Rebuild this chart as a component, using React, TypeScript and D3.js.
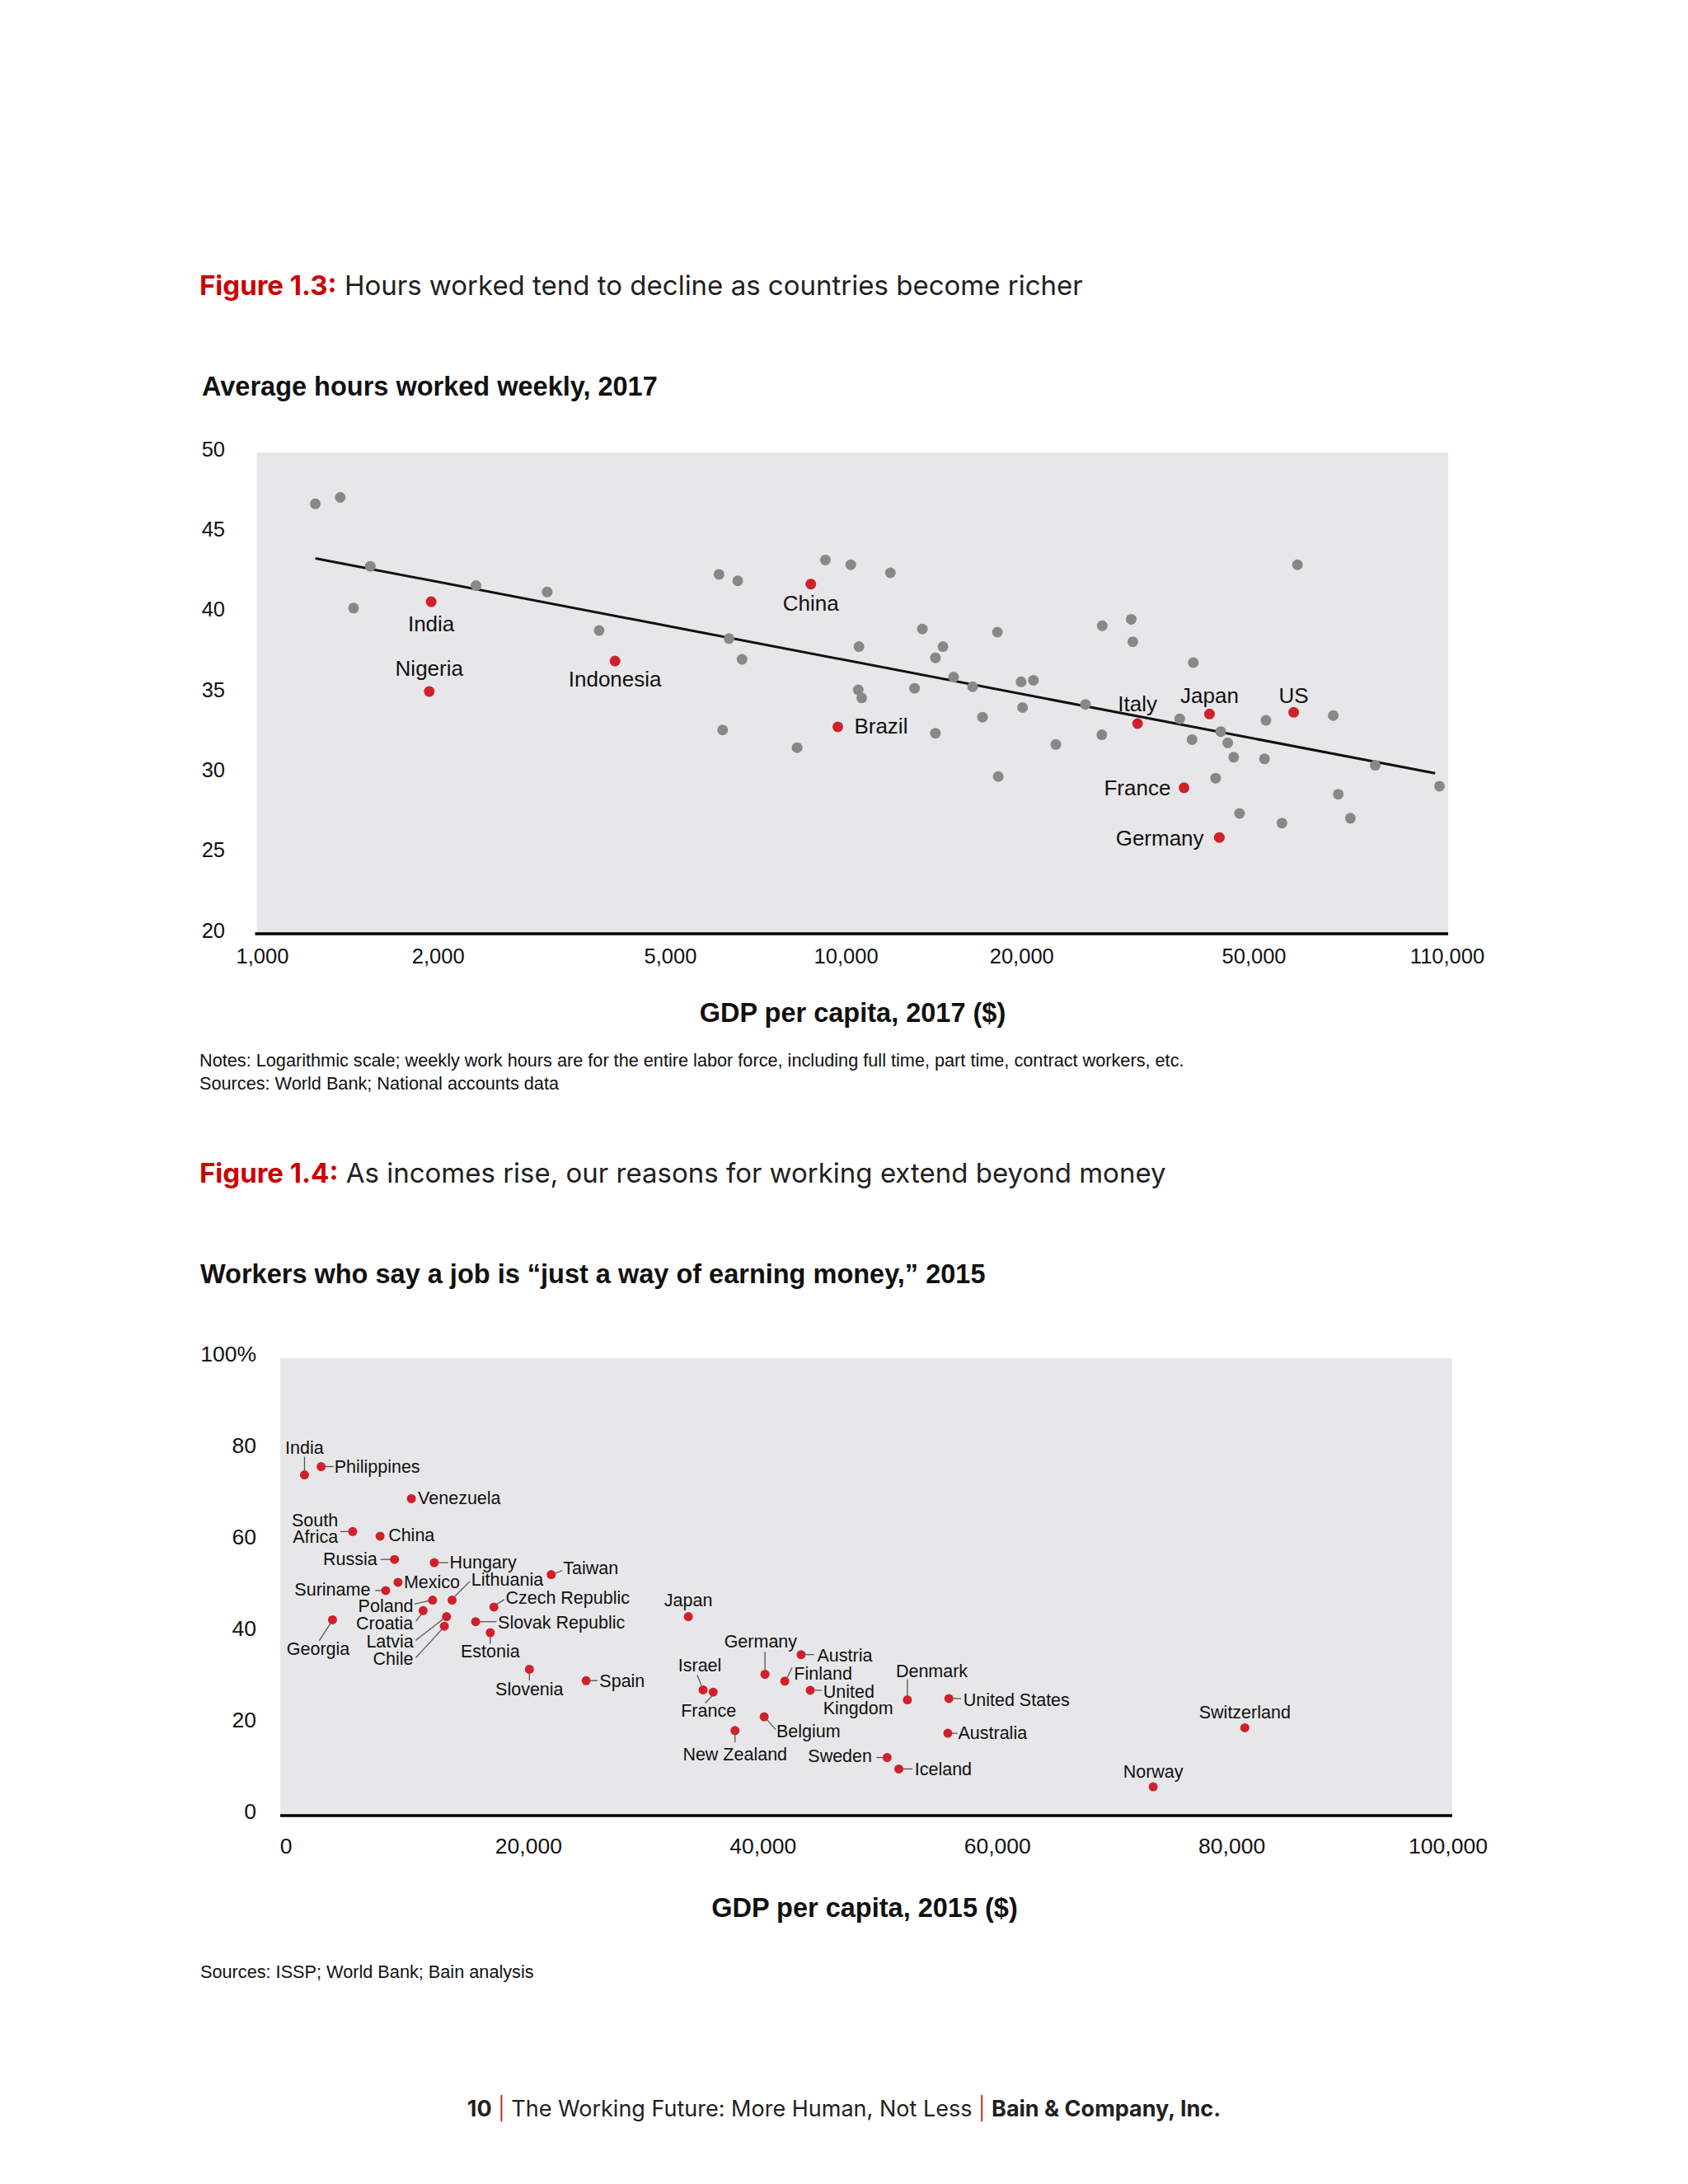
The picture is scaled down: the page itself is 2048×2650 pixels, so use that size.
import React, { useEffect, useRef } from 'react';
import * as d3 from 'd3';

// ---- Figure 1.3: weekly hours vs GDP per capita (log scale), 2017 ----
const otherCountries2017 = [
  { gdp: 1260, hours: 46.8 }, { gdp: 1390, hours: 47.2 }, { gdp: 1565, hours: 42.9 },
  { gdp: 1465, hours: 40.3 }, { gdp: 2375, hours: 41.7 }, { gdp: 3145, hours: 41.3 },
  { gdp: 3860, hours: 38.9 }, { gdp: 6195, hours: 42.4 }, { gdp: 6670, hours: 42.0 },
  { gdp: 6445, hours: 38.4 }, { gdp: 6785, hours: 37.1 }, { gdp: 6285, hours: 32.7 },
  { gdp: 8430, hours: 31.6 }, { gdp: 9425, hours: 43.3 }, { gdp: 10420, hours: 43.0 },
  { gdp: 10760, hours: 37.9 }, { gdp: 10730, hours: 35.2 }, { gdp: 10880, hours: 34.7 },
  { gdp: 12180, hours: 42.5 }, { gdp: 13820, hours: 39.0 }, { gdp: 14990, hours: 37.9 },
  { gdp: 14550, hours: 37.2 }, { gdp: 13400, hours: 35.3 }, { gdp: 15630, hours: 36.0 },
  { gdp: 16850, hours: 35.4 }, { gdp: 14550, hours: 32.5 }, { gdp: 17520, hours: 33.5 },
  { gdp: 18580, hours: 38.8 }, { gdp: 18640, hours: 29.8 }, { gdp: 20400, hours: 35.7 },
  { gdp: 21420, hours: 35.8 }, { gdp: 20520, hours: 34.1 }, { gdp: 23400, hours: 31.8 },
  { gdp: 26300, hours: 34.3 }, { gdp: 28100, hours: 39.2 }, { gdp: 31500, hours: 39.6 },
  { gdp: 31700, hours: 38.2 }, { gdp: 28050, hours: 32.4 }, { gdp: 38150, hours: 33.4 },
  { gdp: 40250, hours: 36.9 }, { gdp: 40050, hours: 32.1 }, { gdp: 44850, hours: 32.6 },
  { gdp: 46100, hours: 31.9 }, { gdp: 47200, hours: 31.0 }, { gdp: 43950, hours: 29.7 },
  { gdp: 48300, hours: 27.5 }, { gdp: 53300, hours: 30.9 }, { gdp: 53600, hours: 33.3 },
  { gdp: 57100, hours: 26.9 }, { gdp: 60700, hours: 43.0 }, { gdp: 69900, hours: 33.6 },
  { gdp: 71300, hours: 28.7 }, { gdp: 74800, hours: 27.2 }, { gdp: 82500, hours: 30.5 },
  { gdp: 106300, hours: 29.2 },
];

const highlighted2017 = [
  { name: 'India', gdp: 1990, hours: 40.7 },
  { name: 'Nigeria', gdp: 1975, hours: 35.1 },
  { name: 'Indonesia', gdp: 4110, hours: 37.0 },
  { name: 'China', gdp: 8900, hours: 41.8 },
  { name: 'Brazil', gdp: 9900, hours: 32.9 },
  { name: 'Italy', gdp: 32300, hours: 33.1 },
  { name: 'Japan', gdp: 42900, hours: 33.7 },
  { name: 'US', gdp: 59800, hours: 33.8 },
  { name: 'France', gdp: 38800, hours: 29.1 },
  { name: 'Germany', gdp: 44600, hours: 26.0 },
];

const trend2017 = [
  { gdp: 1260, hours: 43.4 },
  { gdp: 104500, hours: 30.0 },
];

const hoursTicks = [20, 25, 30, 35, 40, 45, 50];
const gdpLogTicks = [1000, 2000, 5000, 10000, 20000, 50000, 110000];

// ---- Figure 1.4: share saying a job is just a way of earning money, 2015 ----
const moneyOnly2015 = [
  { name: 'India', gdp: 2070, share: 74.5 },
  { name: 'Philippines', gdp: 3490, share: 76.3 },
  { name: 'Venezuela', gdp: 11190, share: 69.3 },
  { name: 'South Africa', gdp: 6180, share: 62.1 },
  { name: 'China', gdp: 8520, share: 61.1 },
  { name: 'Russia', gdp: 9750, share: 56.0 },
  { name: 'Hungary', gdp: 13140, share: 55.3 },
  { name: 'Taiwan', gdp: 23120, share: 52.7 },
  { name: 'Mexico', gdp: 10050, share: 51.0 },
  { name: 'Suriname', gdp: 9000, share: 49.2 },
  { name: 'Poland', gdp: 13000, share: 47.1 },
  { name: 'Lithuania', gdp: 14660, share: 47.1 },
  { name: 'Croatia', gdp: 12190, share: 44.8 },
  { name: 'Latvia', gdp: 14190, share: 43.5 },
  { name: 'Chile', gdp: 14000, share: 41.4 },
  { name: 'Czech Republic', gdp: 18230, share: 45.6 },
  { name: 'Slovak Republic', gdp: 16670, share: 42.4 },
  { name: 'Estonia', gdp: 17920, share: 40.0 },
  { name: 'Georgia', gdp: 4460, share: 42.8 },
  { name: 'Slovenia', gdp: 21260, share: 32.0 },
  { name: 'Spain', gdp: 26100, share: 29.5 },
  { name: 'Japan', gdp: 34820, share: 43.5 },
  { name: 'Israel', gdp: 36080, share: 27.5 },
  { name: 'France', gdp: 36940, share: 27.0 },
  { name: 'New Zealand', gdp: 38800, share: 18.6 },
  { name: 'Germany', gdp: 41360, share: 30.9 },
  { name: 'Belgium', gdp: 41290, share: 21.6 },
  { name: 'Austria', gdp: 44440, share: 35.2 },
  { name: 'Finland', gdp: 43050, share: 29.4 },
  { name: 'United Kingdom', gdp: 45220, share: 27.4 },
  { name: 'Denmark', gdp: 53510, share: 25.3 },
  { name: 'United States', gdp: 57050, share: 25.6 },
  { name: 'Australia', gdp: 56960, share: 18.0 },
  { name: 'Sweden', gdp: 51780, share: 12.7 },
  { name: 'Iceland', gdp: 52780, share: 10.2 },
  { name: 'Norway', gdp: 74480, share: 6.3 },
  { name: 'Switzerland', gdp: 82300, share: 19.2 },
];

const shareTicks = [0, 20, 40, 60, 80, 100];
const gdpLinearTicks = [0, 20000, 40000, 60000, 80000, 100000];

// label placement relative to the dot (px); cy = vertical centre of the text
type LabelPos = {
  dx: number;
  cy: number;
  anchor: 'start' | 'middle' | 'end';
  lines?: string[];
  leader?: [number, number, number, number];
};

const labels2017: Record<string, LabelPos> = {
  India: { dx: 0, cy: 26.5, anchor: 'middle' },
  Nigeria: { dx: 0, cy: -28.6, anchor: 'middle' },
  Indonesia: { dx: 0, cy: 21.2, anchor: 'middle' },
  China: { dx: 0, cy: 23, anchor: 'middle' },
  Brazil: { dx: 19.9, cy: -1.3, anchor: 'start' },
  Italy: { dx: 0, cy: -24.7, anchor: 'middle' },
  Japan: { dx: 0, cy: -22.5, anchor: 'middle' },
  US: { dx: 0, cy: -20.8, anchor: 'middle' },
  France: { dx: -16.2, cy: 0, anchor: 'end' },
  Germany: { dx: -18.8, cy: 0, anchor: 'end' },
};

const labels2015: Record<string, LabelPos> = {
  India: { dx: 0, cy: -33, anchor: 'middle', leader: [0, -22, 0, -5] },
  Philippines: { dx: 16, cy: 0, anchor: 'start', leader: [5, 0, 15, 0] },
  Venezuela: { dx: 8, cy: -1, anchor: 'start' },
  'South Africa': { dx: -17.7, cy: -14, anchor: 'end', lines: ['South', 'Africa'], leader: [-15, 0, -4, 0] },
  China: { dx: 10, cy: -1, anchor: 'start' },
  Russia: { dx: -21, cy: -1, anchor: 'end', leader: [-17, 0, -4, 0] },
  Hungary: { dx: 18.6, cy: -1, anchor: 'start', leader: [5, 0, 17, 0] },
  Taiwan: { dx: 14.6, cy: -8, anchor: 'start', leader: [5, -1.5, 13.5, -5] },
  Mexico: { dx: 7, cy: -1, anchor: 'start' },
  Suriname: { dx: -18.6, cy: -2, anchor: 'end', leader: [-12.7, 0, -4.8, 0] },
  Lithuania: { dx: 23.4, cy: -25, anchor: 'start', leader: [3.2, -4.3, 21.8, -23] },
  Poland: { dx: -23.3, cy: 7, anchor: 'end', leader: [-22, 4.7, -4.8, 0.7] },
  Croatia: { dx: -12, cy: 15, anchor: 'end', leader: [-9, 13, -2, 4] },
  Latvia: { dx: -40, cy: 30, anchor: 'end', leader: [-37.5, 28.8, -3.5, 2.5] },
  Chile: { dx: -37.6, cy: 39.5, anchor: 'end', leader: [-34.8, 38.4, -2.4, 3.2] },
  Georgia: { dx: -17.4, cy: 34.5, anchor: 'middle', leader: [-2.7, 4.7, -16.2, 25.5] },
  'Czech Republic': { dx: 14.2, cy: -11.2, anchor: 'start', leader: [2.8, -2.9, 12.6, -9] },
  'Slovak Republic': { dx: 27, cy: 0.7, anchor: 'start', leader: [4.8, 0, 25.3, 0] },
  Estonia: { dx: 0, cy: 22.6, anchor: 'middle', leader: [0, 4.3, 0, 13.6] },
  Slovenia: { dx: 0, cy: 23.7, anchor: 'middle', leader: [0, 4.3, 0, 13.6] },
  Spain: { dx: 16.2, cy: 0.3, anchor: 'start', leader: [4.3, 0, 13.8, 0] },
  Japan: { dx: 0, cy: -20, anchor: 'middle' },
  Israel: { dx: -4, cy: -29.5, anchor: 'middle', leader: [-7.1, -17.9, -2, -5] },
  France: { dx: -5.6, cy: 22.7, anchor: 'middle', leader: [-1.6, 4.7, -9.5, 13.3] },
  'New Zealand': { dx: 0, cy: 28.3, anchor: 'middle', leader: [0, 4, 0, 14.5] },
  Germany: { dx: -5.3, cy: -40, anchor: 'middle', leader: [0, -27.3, 0, -5.4] },
  Austria: { dx: 19.6, cy: 0.7, anchor: 'start', leader: [5.3, 0, 15.6, 0] },
  Finland: { dx: 11.2, cy: -9.4, anchor: 'start', leader: [3.1, -4.5, 8.9, -16.6] },
  'United Kingdom': { dx: 15.7, cy: 1.4, anchor: 'start', lines: ['United', 'Kingdom'], leader: [5.4, 0, 13.8, 0] },
  Belgium: { dx: 14.8, cy: 17.5, anchor: 'start', leader: [3.6, 3.7, 13.9, 15.5] },
  Denmark: { dx: -14, cy: -35.6, anchor: 'start', leader: [0, -25, 0, -4.7] },
  'United States': { dx: 17.5, cy: 1, anchor: 'start', leader: [5.4, 0, 14.7, 0] },
  Australia: { dx: 12.5, cy: -0.3, anchor: 'start', leader: [5.4, 0, 11.6, 0] },
  Sweden: { dx: -18.3, cy: -2, anchor: 'end', leader: [-12.9, 0, -5.3, 0] },
  Iceland: { dx: 19.2, cy: -0.3, anchor: 'start', leader: [5.4, 0, 16.6, 0] },
  Norway: { dx: 0, cy: -19, anchor: 'middle' },
  Switzerland: { dx: 0, cy: -19.5, anchor: 'middle' },
};

const W = 2048;
const H = 2650;
const RED = '#d0202a';
const TITLE_RED = '#cc0000';
const GREY_DOT = '#888888';
const PLOT_BG = '#e7e7e9';
const CHART_FONT = "'Liberation Sans', Arial, Helvetica, sans-serif";
const TITLE_FONT = "Inter, 'Open Sans', sans-serif";

const App: React.FC = () => {
  const svgRef = useRef<SVGSVGElement>(null);

  useEffect(() => {
    if (!svgRef.current) return;
    const svg = d3.select(svgRef.current);
    svg.selectAll('*').remove();

    svg.append('rect').attr('width', W).attr('height', H).attr('fill', '#fff');

    const heading = (y: number, fig: string, text: string) => {
      const t = svg.append('text')
        .attr('x', 242).attr('y', y)
        .attr('font-family', TITLE_FONT).attr('font-size', 33)
        .attr('fill', '#231f20');
      t.append('tspan').attr('font-weight', 700).attr('fill', TITLE_RED).text(fig);
      t.append('tspan').attr('font-weight', 400).text(' ' + text);
    };

    const plain = (x: number, y: number, text: string, size: number, weight = 400, anchor = 'start') =>
      svg.append('text')
        .attr('x', x).attr('y', y)
        .attr('font-family', CHART_FONT).attr('font-size', size)
        .attr('font-weight', weight).attr('text-anchor', anchor)
        .attr('fill', '#111').text(text);

    // ================= Figure 1.3 =================
    heading(358, 'Figure 1.3:', 'Hours worked tend to decline as countries become richer');
    plain(245, 480, 'Average hours worked weekly, 2017', 32.5, 700);

    const p1 = { left: 311.5, right: 1757, top: 549, bottom: 1133 };
    const x1 = d3.scaleLog().domain([1000, 110000]).range([p1.left, p1.right]);
    const y1 = d3.scaleLinear().domain([20, 50]).range([p1.bottom, p1.top]);

    const g1 = svg.append('g').attr('font-family', CHART_FONT);
    g1.append('rect')
      .attr('x', p1.left).attr('y', p1.top)
      .attr('width', p1.right - p1.left).attr('height', p1.bottom - p1.top)
      .attr('fill', PLOT_BG);

    g1.selectAll('text.ytick').data(hoursTicks).join('text')
      .attr('class', 'ytick')
      .attr('x', 273).attr('y', d => y1(d) + 4.5)
      .attr('text-anchor', 'end').attr('font-size', 25.5).attr('fill', '#111')
      .text(d => d3.format('d')(d));

    g1.selectAll('text.xtick').data(gdpLogTicks).join('text')
      .attr('class', 'xtick')
      .attr('x', (d, i) => x1(d) + (i === gdpLogTicks.length - 1 ? -1 : 7))
      .attr('y', 1169)
      .attr('text-anchor', 'middle').attr('font-size', 25.5).attr('fill', '#111')
      .text(d => d3.format(',')(d));

    g1.append('line')
      .attr('x1', p1.left - 2).attr('x2', p1.right)
      .attr('y1', p1.bottom).attr('y2', p1.bottom)
      .attr('stroke', '#000').attr('stroke-width', 3.5);

    const trend = d3.line<{ gdp: number; hours: number }>()
      .x(d => x1(d.gdp)).y(d => y1(d.hours));
    g1.append('path').datum(trend2017)
      .attr('d', trend).attr('fill', 'none')
      .attr('stroke', '#111').attr('stroke-width', 3);

    g1.selectAll('circle.other').data(otherCountries2017).join('circle')
      .attr('class', 'other')
      .attr('cx', d => x1(d.gdp)).attr('cy', d => y1(d.hours))
      .attr('r', 6.5).attr('fill', GREY_DOT);

    g1.selectAll('circle.hl').data(highlighted2017).join('circle')
      .attr('class', 'hl')
      .attr('cx', d => x1(d.gdp)).attr('cy', d => y1(d.hours))
      .attr('r', 6.5).attr('fill', RED);

    g1.selectAll('text.hl').data(highlighted2017).join('text')
      .attr('class', 'hl')
      .attr('x', d => x1(d.gdp) + labels2017[d.name].dx)
      .attr('y', d => y1(d.hours) + labels2017[d.name].cy + 9.3)
      .attr('text-anchor', d => labels2017[d.name].anchor)
      .attr('font-size', 26).attr('fill', '#111')
      .text(d => d.name);

    plain(1034.5, 1240, 'GDP per capita, 2017 ($)', 32.5, 700, 'middle');
    plain(242, 1294, 'Notes: Logarithmic scale; weekly work hours are for the entire labor force, including full time, part time, contract workers, etc.', 21.7);
    plain(242, 1321.5, 'Sources: World Bank; National accounts data', 21.7);

    // ================= Figure 1.4 =================
    heading(1435, 'Figure 1.4:', 'As incomes rise, our reasons for working extend beyond money');
    plain(243, 1557, 'Workers who say a job is \u201cjust a way of earning money,\u201d 2015', 32.5, 700);

    const p2 = { left: 340, right: 1762, top: 1648, bottom: 2203 };
    const x2 = d3.scaleLinear().domain([0, 100000]).range([p2.left, p2.right]);
    const y2 = d3.scaleLinear().domain([0, 100]).range([p2.bottom, p2.top]);

    const g2 = svg.append('g').attr('font-family', CHART_FONT);
    g2.append('rect')
      .attr('x', p2.left).attr('y', p2.top)
      .attr('width', p2.right - p2.left).attr('height', p2.bottom - p2.top)
      .attr('fill', PLOT_BG);

    g2.selectAll('text.ytick').data(shareTicks).join('text')
      .attr('class', 'ytick')
      .attr('x', 311).attr('y', d => y2(d) + 4)
      .attr('text-anchor', 'end').attr('font-size', 26.5).attr('fill', '#111')
      .text(d => (d === 100 ? `${d}%` : `${d}`));

    const lastX = gdpLinearTicks.length - 1;
    g2.selectAll('text.xtick').data(gdpLinearTicks).join('text')
      .attr('class', 'xtick')
      .attr('x', (d, i) => x2(d) + (i === 0 ? 7 : i === lastX ? -5 : 17))
      .attr('y', 2249)
      .attr('text-anchor', 'middle').attr('font-size', 26.5).attr('fill', '#111')
      .text(d => d3.format(',')(d));

    g2.append('line')
      .attr('x1', p2.left).attr('x2', p2.right)
      .attr('y1', p2.bottom).attr('y2', p2.bottom)
      .attr('stroke', '#000').attr('stroke-width', 3.5);

    // leader lines
    g2.selectAll('line.leader')
      .data(moneyOnly2015.filter(d => labels2015[d.name].leader))
      .join('line')
      .attr('class', 'leader')
      .attr('x1', d => x2(d.gdp) + labels2015[d.name].leader![0])
      .attr('y1', d => y2(d.share) + labels2015[d.name].leader![1])
      .attr('x2', d => x2(d.gdp) + labels2015[d.name].leader![2])
      .attr('y2', d => y2(d.share) + labels2015[d.name].leader![3])
      .attr('stroke', '#555').attr('stroke-width', 1.3);

    g2.selectAll('circle.pt').data(moneyOnly2015).join('circle')
      .attr('class', 'pt')
      .attr('cx', d => x2(d.gdp)).attr('cy', d => y2(d.share))
      .attr('r', 5.5).attr('fill', RED);

    const lbl = g2.selectAll('text.pt').data(moneyOnly2015).join('text')
      .attr('class', 'pt')
      .attr('x', d => x2(d.gdp) + labels2015[d.name].dx)
      .attr('y', d => y2(d.share) + labels2015[d.name].cy + 7.6)
      .attr('text-anchor', d => labels2015[d.name].anchor)
      .attr('font-size', 21.5).attr('fill', '#111');

    lbl.each(function (d) {
      const pos = labels2015[d.name];
      const t = d3.select(this);
      if (!pos.lines) {
        t.text(d.name);
        return;
      }
      pos.lines.forEach((line, i) => {
        t.append('tspan')
          .attr('x', x2(d.gdp) + pos.dx)
          .attr('dy', i === 0 ? 0 : 20.3)
          .text(line);
      });
    });

    plain(1049, 2326, 'GDP per capita, 2015 ($)', 32.5, 700, 'middle');
    plain(243, 2400, 'Sources: ISSP; World Bank; Bain analysis', 21.7);

    // ================= footer =================
    const foot = svg.append('text')
      .attr('x', 1024).attr('y', 2568)
      .attr('text-anchor', 'middle')
      .attr('font-family', TITLE_FONT).attr('font-size', 27)
      .attr('fill', '#231f20');
    foot.append('tspan').attr('font-weight', 700).text('10');
    foot.append('tspan').attr('fill', TITLE_RED).attr('font-weight', 300).text(' | ');
    foot.append('tspan').attr('font-weight', 400).text('The Working Future: More Human, Not Less');
    foot.append('tspan').attr('fill', TITLE_RED).attr('font-weight', 300).text(' | ');
    foot.append('tspan').attr('font-weight', 700).text('Bain & Company, Inc.');
  }, []);

  return (
    <svg
      ref={svgRef}
      width={W}
      height={H}
      style={{ position: 'absolute', left: 0, top: 0, display: 'block' }}
    />
  );
};

export default App;
